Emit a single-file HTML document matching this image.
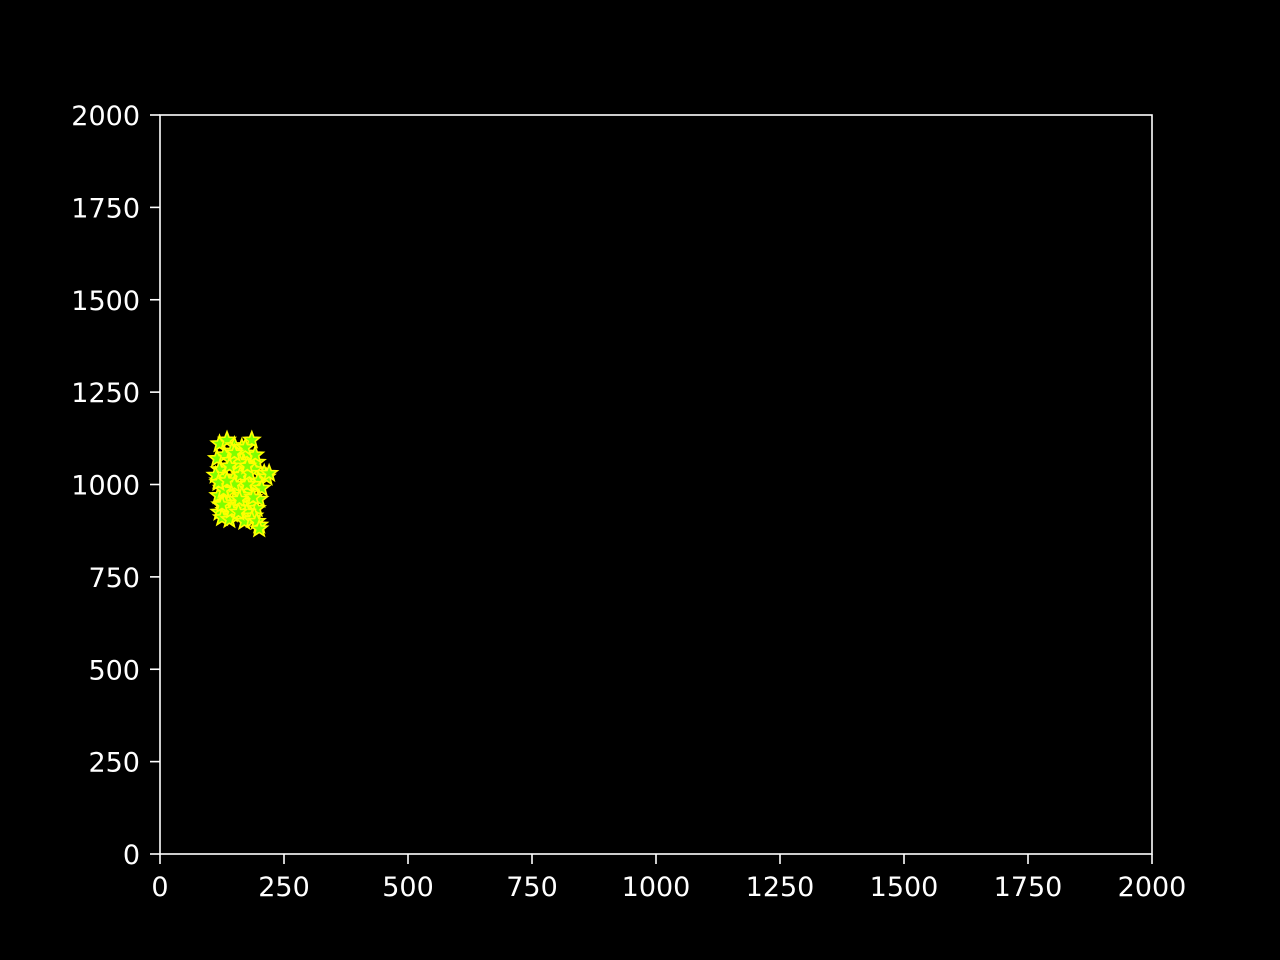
<!DOCTYPE html>
<html><head><meta charset="utf-8"><style>
html,body{margin:0;padding:0;background:#000;overflow:hidden;width:1280px;height:960px;}
svg{display:block;}
svg text{font-family:"DejaVu Sans","Liberation Sans",sans-serif;font-size:27px;fill:#fff;}
</style></head><body>
<svg id="chart" width="1280" height="960" xmlns="http://www.w3.org/2000/svg">
<rect width="1280" height="960" fill="#000"/>
<g id="marks"></g>
<g id="axes"></g>
</svg>
<script>
const xTicks=[0,250,500,750,1000,1250,1500,1750,2000];
const yTicks=[0,250,500,750,1000,1250,1500,1750,2000];
const xs=[120,135,150,165,185,115,130,145,160,175,195,120,140,155,170,190,210,118,132,148,162,178,198,215,125,140,158,172,188,205,118,135,150,168,182,200,122,138,152,165,180,195,120,130,145,160,175,190,125,140,155,170,185,200,130,145,160,175,192,150,165,180,195,128,142,158,172,188,112,125,140,118,200,220,135,160,176,150];
const ys=[1110,1120,1105,1100,1120,1070,1080,1090,1075,1085,1060,1040,1050,1045,1055,1040,1030,1010,1020,1015,1025,1005,1010,1020,990,1000,985,995,1000,990,970,975,960,965,980,960,945,950,940,955,945,935,925,930,920,935,925,915,910,905,915,900,905,890,950,930,1060,1000,1080,1000,970,1030,900,985,1065,925,1100,965,1025,945,1050,1005,880,1030,1010,960,1050,1085];
const X0=160,X1=1152,Y0=854,Y1=115;
const sx=v=>X0+(v-0)/(2000-0)*(X1-X0);
const sy=v=>Y0-(v-0)/(2000-0)*(Y0-Y1);
const NS="http://www.w3.org/2000/svg";
function starPts(cx,cy,R,r){let p=[];for(let i=0;i<10;i++){const a=-Math.PI/2+i*Math.PI/5;const rr=i%2?r:R;p.push((cx+rr*Math.cos(a)).toFixed(1)+","+(cy+rr*Math.sin(a)).toFixed(1));}return p.join(" ");}
const mg=document.getElementById('marks');
for(let i=0;i<xs.length;i++){
 const s=document.createElementNS(NS,'polygon');
 s.setAttribute('points',starPts(sx(xs[i]),sy(ys[i]),8.5,3.6));
 s.setAttribute('fill','#7fff00');s.setAttribute('stroke','#ffff00');s.setAttribute('stroke-width','1.6');
 
 
 mg.appendChild(s);
}
const ag=document.getElementById('axes');
const fr=document.createElementNS(NS,'rect');
fr.setAttribute('x',X0);fr.setAttribute('y',Y1);fr.setAttribute('width',X1-X0);fr.setAttribute('height',Y0-Y1);
fr.setAttribute('fill','none');fr.setAttribute('stroke','#fff');fr.setAttribute('stroke-width','1.6');


ag.appendChild(fr);
xTicks.forEach(t=>{
 const l=document.createElementNS(NS,'line');const x=sx(t);
 l.setAttribute('x1',x);l.setAttribute('x2',x);l.setAttribute('y1',Y0);l.setAttribute('y2',Y0+10);l.setAttribute('stroke','#fff');l.setAttribute('stroke-width','1.6');
 
 
 ag.appendChild(l);
 const tx=document.createElementNS(NS,'text');tx.setAttribute('x',x);tx.setAttribute('y',Y0+42);tx.setAttribute('text-anchor','middle');tx.textContent=t;
 
 
 ag.appendChild(tx);
});
yTicks.forEach(t=>{
 const l=document.createElementNS(NS,'line');const y=sy(t);
 l.setAttribute('x1',X0-10);l.setAttribute('x2',X0);l.setAttribute('y1',y);l.setAttribute('y2',y);l.setAttribute('stroke','#fff');l.setAttribute('stroke-width','1.6');
 
 
 ag.appendChild(l);
 const tx=document.createElementNS(NS,'text');tx.setAttribute('x',X0-20);tx.setAttribute('y',y+10);tx.setAttribute('text-anchor','end');tx.textContent=t;
 
 
 ag.appendChild(tx);
});
</script>
</body></html>
